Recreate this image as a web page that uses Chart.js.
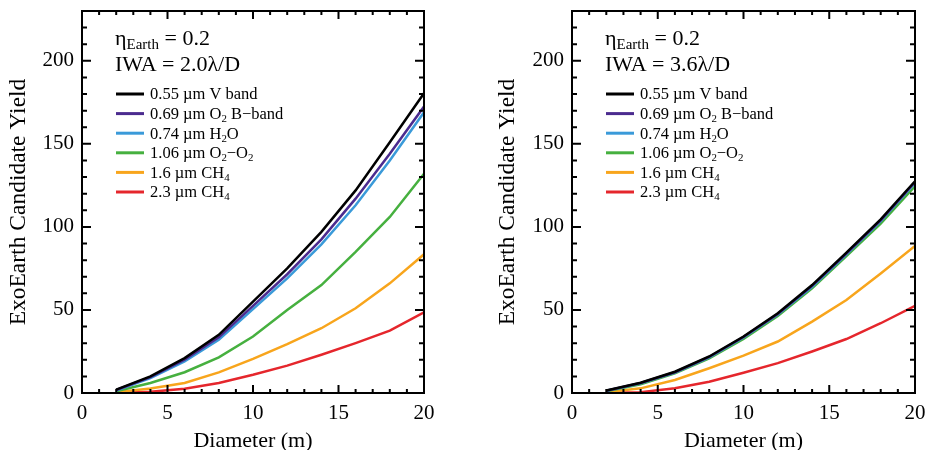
<!DOCTYPE html>
<html>
<head>
<meta charset="utf-8">
<script src="https://cdn.jsdelivr.net/npm/chart.js@4.4.0/dist/chart.umd.min.js"></script>
<style>
  html, body { margin: 0; padding: 0; background: #fff; overflow: hidden; }
  .panel { position: absolute; top: 0; width: 464px; height: 454px; }
  #panelL { left: 0; }
  #panelR { left: 464px; }
</style>
</head>
<body>
<div class="panel" id="panelL"><canvas id="chartL"></canvas></div>
<div class="panel" id="panelR"><canvas id="chartR"></canvas></div>
<script>
'use strict';

/* Exo-Earth yield vs telescope diameter, two IWA cases side by side. */

const diameters = [2, 4, 6, 8, 10, 12, 14, 16, 18, 20];
const bandLabels = ['0.55 µm V band', '0.69 µm O₂ B−band', '0.74 µm H₂O',
                    '1.06 µm O₂−O₂', '1.6 µm CH₄', '2.3 µm CH₄'];
const bandColors = ['#000000', '#4b2b8f', '#3a9ad9', '#46b03f', '#f8a51c', '#e5262c'];
const xTicks = [0, 5, 10, 15, 20];
const yTicks = [0, 50, 100, 150, 200];

// IWA = 2.0 lambda/D
const yieldL_V   = [2, 10, 21, 35, 55, 75, 97, 122, 151, 180.5];
const yieldL_O2B = [1.8, 9.5, 20, 33.5, 52.5, 71.5, 92.5, 117, 144, 172.5];
const yieldL_H2O = [1.5, 9, 19, 32, 50.5, 69, 89.5, 113, 140, 169];
const yieldL_O2O2 = [1, 6, 12.5, 21.5, 34, 50, 65, 85, 106, 132];
const yieldL_CH4a = [0.5, 2.7, 6, 12.4, 20.5, 29.4, 39, 51, 66, 83.5];
const yieldL_CH4b = [0.1, 0.7, 2.5, 6, 11, 16.5, 23, 30, 37.5, 48.5];

// IWA = 3.6 lambda/D
const yieldR_V   = [1.5, 6.2, 12.8, 22, 34, 48, 65, 84.5, 104.5, 127.5];
const yieldR_O2B = [1.4, 6, 12.5, 21.7, 33.7, 47.6, 64.5, 84, 104, 127];
const yieldR_H2O = [1.3, 5.8, 12.3, 21.4, 33.4, 47.2, 64, 83.5, 103.5, 126.5];
const yieldR_O2O2 = [1, 5.3, 11.8, 20.8, 32.6, 46.3, 63, 82.5, 102, 124.5];
const yieldR_CH4a = [0.5, 2.8, 7.8, 14.9, 22.5, 31, 43, 56, 72, 88.5];
const yieldR_CH4b = [0.1, 0.5, 2.8, 6.8, 12.2, 18, 25, 32.5, 42, 52.5];

const FAM = "'Liberation Serif', 'Times New Roman', serif";
Chart.defaults.font.family = FAM;
Chart.defaults.color = '#000';

// text with unicode subscript digits drawn as small lowered digits
function drawRich(ctx, x, y, text, size){
  const subs = '₀₁₂₃₄₅₆₇₈₉';
  const runs = [];
  for(const ch of text){
    const i = subs.indexOf(ch);
    const sub = i >= 0;
    const c = sub ? String(i) : ch;
    const last = runs[runs.length-1];
    if(last && last.sub === sub) last.t += c; else runs.push({t:c, sub});
  }
  let cx = x;
  runs.forEach(r=>{
    ctx.font = (r.sub ? size*0.66 : size) + 'px ' + FAM;
    ctx.fillText(r.t, cx, y + (r.sub ? size*0.28 : 0));
    cx += ctx.measureText(r.t).width;
  });
}

const framePlugin = {
  id: 'frame',
  afterDatasetsDraw(chart){
    const {ctx, chartArea:a, scales:{x, y}} = chart;
    ctx.save();
    ctx.strokeStyle = '#000';
    ctx.lineWidth = 2;
    ctx.strokeRect(a.left, a.top, a.right - a.left, a.bottom - a.top);
    ctx.beginPath();
    for(let v = 0; v <= 20; v += 1){
      const px = x.getPixelForValue(v);
      const len = v % 5 === 0 ? 8 : 4;
      ctx.moveTo(px, a.bottom); ctx.lineTo(px, a.bottom - len);
      ctx.moveTo(px, a.top); ctx.lineTo(px, a.top + len);
    }
    for(let v = 0; v <= 230; v += 10){
      const py = y.getPixelForValue(v);
      const len = v % 50 === 0 ? 9 : 5;
      ctx.moveTo(a.left, py); ctx.lineTo(a.left + len, py);
      ctx.moveTo(a.right, py); ctx.lineTo(a.right - len, py);
    }
    ctx.stroke();
    ctx.restore();
  },
  afterDraw(chart, args, opts){
    const {ctx, chartArea:a} = chart;
    const x0 = a.left + 33;
    ctx.save();
    ctx.fillStyle = '#000';
    ctx.textBaseline = 'alphabetic';
    // eta_Earth line
    ctx.font = '22px ' + FAM;
    ctx.fillText('η', x0, a.top + 34);
    let cx = x0 + ctx.measureText('η').width;
    ctx.font = '15px ' + FAM;
    ctx.fillText('Earth', cx, a.top + 37.5);
    cx += ctx.measureText('Earth').width;
    ctx.font = '22px ' + FAM;
    ctx.fillText(' = ' + opts.eta, cx, a.top + 34);
    ctx.fillText('IWA = ' + opts.iwa + 'λ/D', x0, a.top + 59.5);
    // legend rows
    ctx.textBaseline = 'middle';
    chart.data.datasets.forEach((ds, i)=>{
      const cy = a.top + 84 + i*19.6;
      ctx.strokeStyle = ds.borderColor;
      ctx.lineWidth = 3;
      ctx.beginPath();
      ctx.moveTo(a.left + 34, cy - 1); ctx.lineTo(a.left + 62, cy - 1);
      ctx.stroke();
      drawRich(ctx, a.left + 68, cy, ds.label, 16.5);
    });
    ctx.restore();
  }
};

function makePanel(canvasId, series, iwa, yWidth, titlePad, padRight){
  const datasets = series.map((vals, i)=>({
    label: bandLabels[i],
    data: vals.map((v, k)=>({x: diameters[k], y: v})),
    borderColor: bandColors[i],
    backgroundColor: bandColors[i],
    borderWidth: 2.5,
    pointRadius: 0,
    tension: 0,
    fill: false
  }));
  return new Chart(document.getElementById(canvasId), {
    type: 'line',
    data: { datasets },
    plugins: [framePlugin],
    options: {
      responsive: true,
      maintainAspectRatio: false,
      animation: false,
      layout: { autoPadding: false, padding: { top: 11, right: padRight, bottom: 0, left: 0 } },
      plugins: {
        legend: { display: false },
        tooltip: { enabled: false },
        frame: { eta: '0.2', iwa }
      },
      scales: {
        x: {
          type: 'linear', min: 0, max: 20,
          grid: { display: false, drawTicks: false },
          border: { display: false },
          afterBuildTicks: s => { s.ticks = xTicks.map(v=>({value:v})); },
          afterFit: s => { s.height = 61; s.paddingLeft = 0; s.paddingRight = 0; },
          ticks: { font: { size: 21 }, padding: 8, maxRotation: 0 },
          title: { display: true, text: 'Diameter (m)', font: { size: 22 }, padding: 0 }
        },
        y: {
          min: 0, max: 230,
          grid: { display: false, drawTicks: false },
          border: { display: false },
          afterBuildTicks: s => { s.ticks = yTicks.map(v=>({value:v})); },
          afterFit: s => { s.width = yWidth; s.paddingTop = 0; s.paddingBottom = 0; },
          ticks: { font: { size: 21 }, padding: 8 },
          title: { display: true, text: 'ExoEarth Candidate Yield', font: { size: 23.5 }, padding: { top: titlePad, bottom: 0 } }
        }
      }
    }
  });
}

makePanel('chartL', [yieldL_V, yieldL_O2B, yieldL_H2O, yieldL_O2O2, yieldL_CH4a, yieldL_CH4b], '2.0', 82, 5, 40);
makePanel('chartR', [yieldR_V, yieldR_O2B, yieldR_H2O, yieldR_O2O2, yieldR_CH4a, yieldR_CH4b], '3.6', 108, 30, 13);
</script>
</body>
</html>
